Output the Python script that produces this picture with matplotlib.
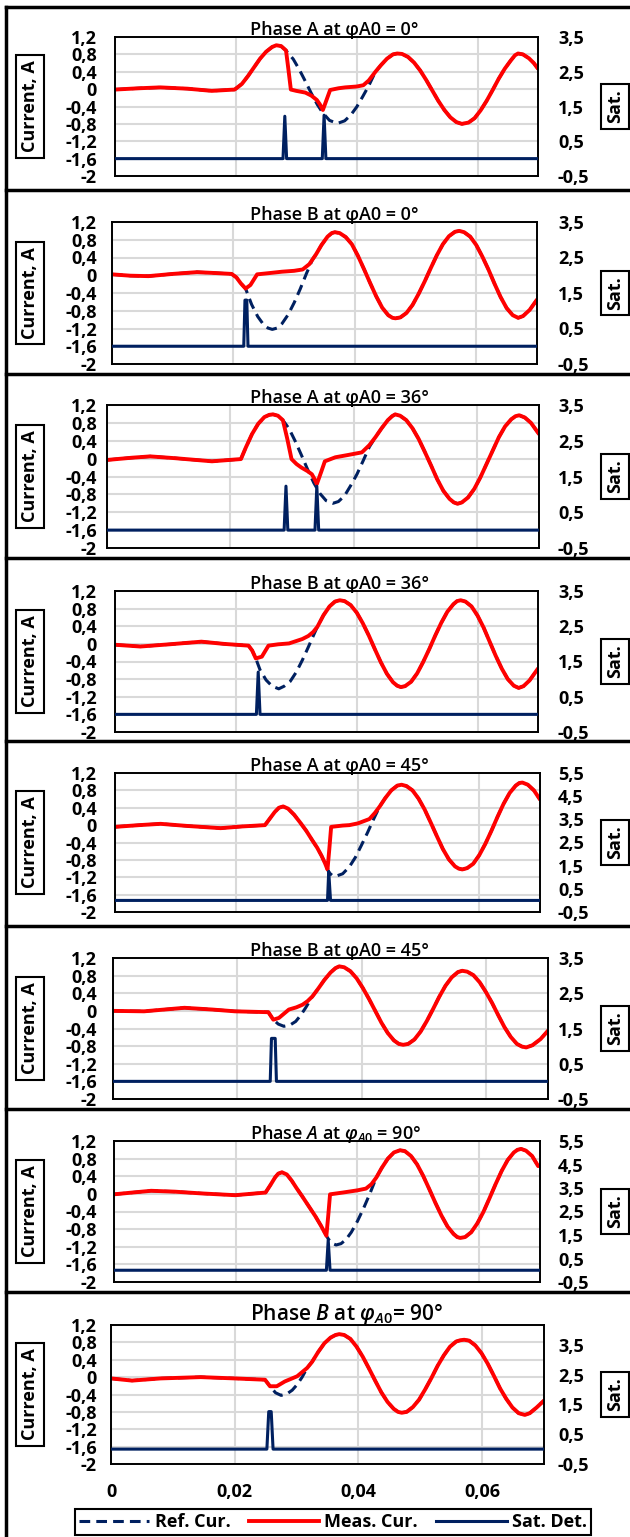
import matplotlib.pyplot as plt
from matplotlib.lines import Line2D
from matplotlib.ticker import FuncFormatter

# ---------------- data ----------------
titles = [
    "Phase A at φA0 = 0°",
    "Phase B at φA0 = 0°",
    "Phase A at φA0 = 36°",
    "Phase B at φA0 = 36°",
    "Phase A at φA0 = 45°",
    "Phase B at φA0 = 45°",
    r"Phase $\mathit{A}$ at $\mathit{φ}_{\mathit{A0}}$ = $\mathit{90°}$",
    r"Phase $\mathit{B}$ at $\mathit{φ}_{\mathit{A0}}$= $\mathit{90°}$",
]
legend_labels = ["Ref. Cur.", "Meas. Cur.", "Sat. Det."]
x_ticks = [0, 0.02, 0.04, 0.06]
cur_ticks = [-2, -1.6, -1.2, -0.8, -0.4, 0, 0.4, 0.8, 1.2]

# panel 1 - phase A, 0 deg
t_meas_1 = [0, 0.004, 0.0075, 0.012, 0.016, 0.0198, 0.021, 0.022, 0.023, 0.024, 0.025, 0.026, 0.0267, 0.0275, 0.0283,
            0.0287, 0.0291, 0.030, 0.0315, 0.0325, 0.0334, 0.0339, 0.0344, 0.035, 0.0356, 0.037, 0.0381, 0.040, 0.0411,
            0.042, 0.0431, 0.044, 0.045, 0.046, 0.0467, 0.0475, 0.0485, 0.0495, 0.0505, 0.0515, 0.0525, 0.0535, 0.0545,
            0.0555, 0.0565, 0.0574, 0.0585, 0.0595, 0.0605, 0.0615, 0.0625, 0.0635, 0.0645, 0.0655, 0.0662, 0.0667,
            0.0675, 0.0685, 0.0693, 0.07]
i_meas_1 = [-0.01, 0.02, 0.04, 0.01, -0.04, -0.01, 0.12, 0.3, 0.5, 0.7, 0.86, 0.97, 1.01, 0.99, 0.89,
            0.45, -0.01, -0.04, -0.08, -0.15, -0.25, -0.35, -0.48, -0.25, -0.02, 0.02, 0.04, 0.06, 0.09,
            0.2, 0.4, 0.55, 0.7, 0.8, 0.82, 0.81, 0.74, 0.61, 0.43, 0.21, -0.03, -0.27, -0.48,
            -0.65, -0.76, -0.8, -0.77, -0.67, -0.49, -0.27, -0.02, 0.24, 0.47, 0.66, 0.78, 0.82,
            0.8, 0.71, 0.6, 0.47]
t_ref_1 = [0.0283, 0.0295, 0.0305, 0.0315, 0.0325, 0.0335, 0.0344, 0.0355, 0.0368, 0.038, 0.039, 0.040, 0.041, 0.042, 0.0431]
i_ref_1 = [0.89, 0.69, 0.45, 0.18, -0.1, -0.36, -0.55, -0.72, -0.79, -0.73, -0.6, -0.41, -0.17, 0.08, 0.4]
t_sat_1 = [0, 0.0278, 0.0281, 0.0284, 0.0343, 0.0346, 0.0349, 0.07]
s_sat_1 = [0, 0, 1.22, 0, 0, 1.25, 0, 0]

# panel 2 - phase B, 0 deg
t_meas_2 = [0, 0.003, 0.006, 0.01, 0.014, 0.017, 0.0197, 0.0205, 0.0212, 0.022, 0.0228, 0.0239, 0.026, 0.028, 0.030,
            0.0314, 0.0325, 0.0336, 0.0345, 0.0355, 0.0362, 0.0367, 0.0375, 0.0385, 0.0395, 0.0405, 0.0415, 0.0425,
            0.0435, 0.0445, 0.0455, 0.0462, 0.0467, 0.0475, 0.0485, 0.0495, 0.0505, 0.0515, 0.0525, 0.0535, 0.0545,
            0.0555, 0.0565, 0.0572, 0.058, 0.059, 0.060, 0.061, 0.062, 0.063, 0.064, 0.065, 0.066, 0.0669, 0.0677,
            0.0688, 0.07]
i_meas_2 = [0.02, -0.01, -0.02, 0.03, 0.07, 0.05, 0.03, -0.05, -0.18, -0.3, -0.22, 0.02, 0.05, 0.08, 0.1,
            0.13, 0.25, 0.47, 0.68, 0.87, 0.95, 0.97, 0.95, 0.86, 0.7, 0.44, 0.14, -0.17,
            -0.47, -0.73, -0.9, -0.96, -0.97, -0.95, -0.85, -0.67, -0.42, -0.14, 0.16, 0.45, 0.7,
            0.88, 0.98, 1.0, 0.97, 0.87, 0.68, 0.42, 0.13, -0.19, -0.49, -0.74, -0.9, -0.96, -0.92,
            -0.78, -0.55]
t_ref_2 = [0.022, 0.023, 0.024, 0.025, 0.0257, 0.0264, 0.0272, 0.028, 0.029, 0.030, 0.031, 0.032, 0.033, 0.0336]
i_ref_2 = [-0.3, -0.66, -0.93, -1.12, -1.19, -1.22, -1.19, -1.09, -0.89, -0.62, -0.31, 0.03, 0.35, 0.47]
t_sat_2 = [0, 0.0217, 0.0219, 0.0222, 0.0224, 0.07]
s_sat_2 = [0, 0, 1.3, 1.3, 0, 0]

# panel 3 - phase A, 36 deg
t_meas_3 = [0, 0.004, 0.007, 0.011, 0.017, 0.0217, 0.0225, 0.0235, 0.0245, 0.0255, 0.0263, 0.0269, 0.0277, 0.0285,
            0.0292, 0.0299, 0.0307, 0.0315, 0.0325, 0.0332, 0.0336, 0.034, 0.0347, 0.0353, 0.037, 0.039, 0.0413,
            0.0425, 0.0435, 0.0445, 0.0455, 0.0462, 0.0467, 0.0475, 0.0485, 0.0495, 0.0505, 0.0515, 0.0525, 0.0535,
            0.0545, 0.0555, 0.0562, 0.0568, 0.0575, 0.0585, 0.0595, 0.0605, 0.0615, 0.0625, 0.0635, 0.0645, 0.0655,
            0.0662, 0.0668, 0.0677, 0.0687, 0.07]
i_meas_3 = [-0.03, 0.02, 0.05, 0.01, -0.06, -0.01, 0.25, 0.55, 0.78, 0.93, 0.98, 0.99, 0.96, 0.86,
            0.45, -0.01, -0.12, -0.2, -0.28, -0.35, -0.45, -0.57, -0.3, -0.06, 0.03, 0.08, 0.14,
            0.3, 0.48, 0.68, 0.86, 0.95, 0.99, 0.96, 0.86, 0.68, 0.44, 0.15, -0.15, -0.46,
            -0.72, -0.9, -0.98, -1.01, -0.98, -0.87, -0.68, -0.42, -0.12, 0.18, 0.48, 0.72, 0.88,
            0.95, 0.97, 0.92, 0.8, 0.55]
t_ref_3 = [0.0285, 0.0295, 0.0305, 0.0315, 0.0325, 0.0335, 0.0345, 0.0355, 0.0366, 0.0375, 0.0385, 0.0395, 0.0405,
           0.0415, 0.0425, 0.0435]
i_ref_3 = [0.86, 0.67, 0.39, 0.08, -0.24, -0.54, -0.78, -0.94, -1.0, -0.96, -0.83, -0.6, -0.35, -0.05, 0.26, 0.48]
t_sat_3 = [0, 0.0287, 0.029, 0.0293, 0.0337, 0.034, 0.0343, 0.07]
s_sat_3 = [0, 0, 1.23, 0, 0, 1.23, 0, 0]

# panel 4 - phase B, 36 deg
t_meas_4 = [0, 0.0042, 0.009, 0.0143, 0.018, 0.0221, 0.0227, 0.0233, 0.0243, 0.0254, 0.027, 0.0288, 0.031, 0.032,
            0.0328, 0.0335, 0.0345, 0.0355, 0.0364, 0.0372, 0.038, 0.039, 0.040, 0.041, 0.042, 0.043, 0.044, 0.045,
            0.046, 0.0467, 0.0473, 0.048, 0.049, 0.050, 0.051, 0.052, 0.053, 0.054, 0.055, 0.056, 0.0566, 0.0572,
            0.058, 0.059, 0.060, 0.061, 0.062, 0.063, 0.064, 0.065, 0.066, 0.0668, 0.0676, 0.0686, 0.07]
i_meas_4 = [-0.02, -0.06, -0.01, 0.05, 0.0, -0.04, -0.15, -0.33, -0.29, -0.04, -0.01, 0.01, 0.11, 0.18,
            0.27, 0.39, 0.65, 0.85, 0.96, 0.99, 0.97, 0.88, 0.71, 0.47, 0.19, -0.12, -0.42, -0.68,
            -0.87, -0.95, -0.98, -0.96, -0.86, -0.67, -0.41, -0.12, 0.19, 0.48, 0.73, 0.9, 0.97, 0.99,
            0.96, 0.85, 0.64, 0.37, 0.05, -0.27, -0.56, -0.8, -0.95, -1.0, -0.96, -0.83, -0.56]
t_ref_4 = [0.0233, 0.024, 0.025, 0.026, 0.0271, 0.028, 0.029, 0.030, 0.031, 0.032, 0.033, 0.0335]
i_ref_4 = [-0.33, -0.59, -0.82, -0.96, -1.02, -0.96, -0.85, -0.64, -0.37, -0.07, 0.24, 0.39]
t_sat_4 = [0, 0.0234, 0.0237, 0.024, 0.07]
s_sat_4 = [0, 0, 1.2, 0, 0]

# panel 5 - phase A, 45 deg
t_meas_5 = [0, 0.004, 0.0075, 0.012, 0.0174, 0.021, 0.0247, 0.0255, 0.0263, 0.027, 0.0277, 0.0285, 0.0295, 0.0305,
            0.0315, 0.0325, 0.0333, 0.034, 0.0346, 0.035, 0.0353, 0.0356, 0.0375, 0.0386, 0.040, 0.0419, 0.0428,
            0.0436, 0.0445, 0.0455, 0.0465, 0.0472, 0.048, 0.049, 0.050, 0.051, 0.052, 0.053, 0.054, 0.055, 0.056,
            0.0566, 0.0572, 0.058, 0.059, 0.060, 0.061, 0.062, 0.063, 0.064, 0.065, 0.066, 0.0666, 0.0671, 0.068,
            0.069, 0.07]
i_meas_5 = [-0.04, 0.0, 0.03, -0.02, -0.07, -0.03, 0.0, 0.15, 0.3, 0.4, 0.43, 0.38, 0.24, 0.06,
            -0.13, -0.35, -0.52, -0.7, -0.88, -1.02, -0.55, -0.04, -0.01, 0.0, 0.04, 0.14, 0.28,
            0.43, 0.62, 0.8, 0.91, 0.93, 0.9, 0.8, 0.61, 0.36, 0.06, -0.25, -0.55, -0.79, -0.95,
            -1.0, -1.02, -0.99, -0.89, -0.69, -0.43, -0.13, 0.19, 0.49, 0.74, 0.91, 0.97, 0.98, 0.93,
            0.8, 0.59]
t_ref_5 = [0.035, 0.0353, 0.0358, 0.0363, 0.0375, 0.0386, 0.0396, 0.0406, 0.0416, 0.0426, 0.0436]
i_ref_5 = [-1.02, -1.1, -1.16, -1.18, -1.12, -0.96, -0.74, -0.46, -0.17, 0.14, 0.43]
t_sat_5 = [0, 0.035, 0.0352, 0.0355, 0.07]
s_sat_5 = [0, 0, 1.25, 0, 0]

# panel 6 - phase B, 45 deg
t_meas_6 = [0, 0.005, 0.0115, 0.016, 0.0196, 0.025, 0.0258, 0.0267, 0.0283, 0.0295, 0.0305, 0.0313, 0.0321, 0.033,
            0.034, 0.035, 0.0358, 0.0364, 0.0372, 0.0382, 0.0392, 0.0402, 0.0412, 0.0422, 0.0432, 0.0442, 0.0452,
            0.046, 0.0467, 0.0475, 0.0485, 0.0495, 0.0505, 0.0515, 0.0525, 0.0535, 0.0545, 0.0555, 0.0562, 0.057,
            0.058, 0.059, 0.060, 0.061, 0.062, 0.063, 0.064, 0.065, 0.0658, 0.0665, 0.0675, 0.0688, 0.07]
i_meas_6 = [0.0, -0.01, 0.07, 0.03, -0.01, -0.03, -0.2, -0.16, 0.03, 0.08, 0.14, 0.22, 0.33, 0.5,
            0.7, 0.87, 0.97, 1.01, 0.99, 0.9, 0.74, 0.52, 0.27, 0.0, -0.27, -0.5, -0.67,
            -0.75, -0.77, -0.75, -0.65, -0.47, -0.23, 0.04, 0.32, 0.57, 0.76, 0.88, 0.91, 0.89,
            0.81, 0.65, 0.43, 0.18, -0.1, -0.37, -0.59, -0.75, -0.81, -0.83, -0.78, -0.64, -0.45]
t_ref_6 = [0.0258, 0.0266, 0.0275, 0.0285, 0.0294, 0.0302, 0.031, 0.0321]
i_ref_6 = [-0.2, -0.3, -0.35, -0.32, -0.24, -0.1, 0.07, 0.33]
t_sat_6 = [0, 0.0253, 0.0255, 0.0261, 0.0263, 0.07]
s_sat_6 = [0, 0, 1.22, 1.22, 0, 0]

# panel 7 - phase A, 90 deg
t_meas_7 = [0, 0.003, 0.0061, 0.01, 0.0144, 0.0199, 0.0249, 0.0257, 0.0265, 0.027, 0.0276, 0.0284, 0.0292, 0.030,
            0.0309, 0.032, 0.0331, 0.034, 0.0349, 0.0352, 0.0355, 0.0376, 0.040, 0.0414, 0.0423, 0.0431, 0.044,
            0.045, 0.046, 0.047, 0.0478, 0.0488, 0.0498, 0.0508, 0.0518, 0.0528, 0.0538, 0.0548, 0.0558, 0.0564,
            0.0569, 0.0577, 0.0587, 0.0597, 0.0607, 0.0617, 0.0627, 0.0637, 0.0647, 0.0657, 0.0663, 0.0669, 0.0677,
            0.0687, 0.0697]
i_meas_7 = [-0.01, 0.03, 0.07, 0.05, 0.01, -0.03, 0.03, 0.2, 0.38, 0.46, 0.49, 0.44, 0.3, 0.13,
            -0.05, -0.28, -0.51, -0.72, -0.95, -0.5, -0.01, 0.03, 0.08, 0.12, 0.22, 0.37, 0.59,
            0.8, 0.94, 0.99, 0.97, 0.86, 0.67, 0.41, 0.11, -0.2, -0.49, -0.74, -0.91, -0.98,
            -1.0, -0.98, -0.87, -0.67, -0.41, -0.1, 0.22, 0.52, 0.77, 0.94, 1.0, 1.02, 0.98,
            0.86, 0.63]
t_ref_7 = [0.0349, 0.0352, 0.0358, 0.0365, 0.0373, 0.0381, 0.039, 0.040, 0.041, 0.042, 0.0431]
i_ref_7 = [-0.95, -1.02, -1.12, -1.16, -1.13, -1.04, -0.87, -0.62, -0.33, -0.01, 0.37]
t_sat_7 = [0, 0.0349, 0.0352, 0.0355, 0.07]
s_sat_7 = [0, 0, 1.29, 0, 0]

# panel 8 - phase B, 90 deg
t_meas_8 = [0, 0.0034, 0.008, 0.0145, 0.02, 0.0249, 0.0257, 0.0268, 0.0281, 0.0301, 0.0317, 0.0325, 0.0335, 0.0345,
            0.0355, 0.0363, 0.0369, 0.0377, 0.0387, 0.0397, 0.0407, 0.0417, 0.0427, 0.0437, 0.0447, 0.0457, 0.0464,
            0.047, 0.0478, 0.0488, 0.0498, 0.0508, 0.0518, 0.0528, 0.0538, 0.0548, 0.0558, 0.0565, 0.0571, 0.0579,
            0.0589, 0.0599, 0.0609, 0.0619, 0.0629, 0.0639, 0.0649, 0.0659, 0.0669, 0.0677, 0.0688, 0.07]
i_meas_8 = [-0.03, -0.08, -0.03, 0.0, -0.03, -0.06, -0.21, -0.21, -0.1, 0.02, 0.21, 0.35, 0.58, 0.78,
            0.91, 0.97, 0.99, 0.97, 0.88, 0.7, 0.47, 0.2, -0.08, -0.35, -0.57, -0.73, -0.8,
            -0.82, -0.8, -0.69, -0.52, -0.28, -0.02, 0.26, 0.5, 0.7, 0.82, 0.85, 0.86, 0.84,
            0.73, 0.55, 0.31, 0.03, -0.26, -0.5, -0.7, -0.83, -0.87, -0.83, -0.7, -0.54]
t_ref_8 = [0.0257, 0.0266, 0.0275, 0.0285, 0.0293, 0.0301, 0.0309, 0.0317]
i_ref_8 = [-0.21, -0.36, -0.42, -0.38, -0.3, -0.17, 0.0, 0.21]
t_sat_8 = [0, 0.0252, 0.0255, 0.0259, 0.0262, 0.07]
s_sat_8 = [0, 0, 1.26, 1.26, 0, 0]

meas = [(t_meas_1, i_meas_1), (t_meas_2, i_meas_2), (t_meas_3, i_meas_3), (t_meas_4, i_meas_4),
        (t_meas_5, i_meas_5), (t_meas_6, i_meas_6), (t_meas_7, i_meas_7), (t_meas_8, i_meas_8)]
refs = [(t_ref_1, i_ref_1), (t_ref_2, i_ref_2), (t_ref_3, i_ref_3), (t_ref_4, i_ref_4),
        (t_ref_5, i_ref_5), (t_ref_6, i_ref_6), (t_ref_7, i_ref_7), (t_ref_8, i_ref_8)]
sats = [(t_sat_1, s_sat_1), (t_sat_2, s_sat_2), (t_sat_3, s_sat_3), (t_sat_4, s_sat_4),
        (t_sat_5, s_sat_5), (t_sat_6, s_sat_6), (t_sat_7, s_sat_7), (t_sat_8, s_sat_8)]

# ---------------- style / layout ----------------
RED = "#FF0000"
NAVY = "#002060"
GRID = "#D9D9D9"
W, H = 630, 1537
FS = 13

plt.rcParams["font.family"] = ["Open Sans", "DejaVu Sans"]
plt.rcParams["font.weight"] = "bold"
plt.rcParams["mathtext.fontset"] = "custom"
plt.rcParams["mathtext.rm"] = "Open Sans:semibold"
plt.rcParams["mathtext.it"] = "Open Sans:italic:semibold"

# plot areas in pixels: left, right, top, bottom
boxes = [(115, 538, 37, 176), (112, 537, 222, 364), (107, 539, 405, 548), (115, 538, 591, 732),
         (115, 540, 773, 912), (113, 548, 958, 1099), (114, 540, 1141, 1282), (111, 544, 1325, 1464)]
sat_tops = [3.5, 3.5, 3.5, 3.5, 5.5, 3.5, 5.5, 4.17]
title_gap = [2, 2, 2, 2, 2, 2, 2, 5]
title_size = [FS] * 7 + [15]
separators = [7, 190, 374, 558, 741, 926, 1109, 1292]

comma = FuncFormatter(lambda v, _: f"{v:g}".replace(".", ","))
box_style = dict(boxstyle="square,pad=0.3", fc="white", ec="black", lw=1.5)

fig = plt.figure(figsize=(W / 100, H / 100), dpi=100)

for k in range(8):
    l, r, t, b = boxes[k]
    ax = fig.add_axes([l / W, 1 - b / H, (r - l) / W, (b - t) / H])
    ax.set_xlim(0, 0.07)
    ax.set_ylim(-2, 1.2)
    ax.set_xticks(x_ticks)
    ax.set_yticks(cur_ticks)
    ax.xaxis.set_major_formatter(comma)
    ax.yaxis.set_major_formatter(comma)
    ax.grid(True, color=GRID, lw=1.5)
    ax.set_axisbelow(True)
    ax.tick_params(axis="y", length=0, labelsize=FS, pad=(l - 97) * 0.72)
    ax.tick_params(axis="x", length=0, labelsize=FS, pad=14, labelbottom=(k == 7))
    for sp in ax.spines.values():
        sp.set_color("black")
        sp.set_linewidth(1.4)

    tm, im = meas[k]
    tr, ir = refs[k]
    # reference curve = measured curve outside the deviation window
    rt = [x for x in tm if x < tr[0]] + tr + [x for x in tm if x > tr[-1]]
    ri = [y for x, y in zip(tm, im) if x < tr[0]] + ir + [y for x, y in zip(tm, im) if x > tr[-1]]
    ax.plot(rt, ri, color=NAVY, lw=2.2, dashes=(3.5, 2))
    ax.plot(tm, im, color=RED, lw=2.8, solid_capstyle="round")

    ax2 = ax.twinx()
    ax2.set_ylim(-0.5, sat_tops[k])
    ax2.set_yticks([v + 0.5 for v in range(-1, int(sat_tops[k] - 0.5) + 1)])
    ax2.yaxis.set_major_formatter(comma)
    ax2.tick_params(axis="y", length=0, labelsize=FS, pad=(558 - r) * 0.72)
    for sp in ax2.spines.values():
        sp.set_visible(False)
    ts, ss = sats[k]
    ax2.plot(ts, ss, color=NAVY, lw=2.2)

    fig.text(250 / W, 1 - (t - title_gap[k]) / H, titles[k], ha="left", va="baseline",
             fontsize=title_size[k], fontweight="semibold")
    yc = 1 - (t + b) / 2 / H
    fig.text(30 / W, yc, "Current, A", rotation=90, ha="center", va="center", fontsize=FS, bbox=box_style)
    fig.text(615 / W, yc, "Sat.", rotation=90, ha="center", va="center", fontsize=FS, bbox=box_style)

# panel frames
for y in separators:
    fig.add_artist(Line2D([6 / W, 1], [1 - y / H, 1 - y / H], color="black", lw=2.5, transform=fig.transFigure))
fig.add_artist(Line2D([6 / W, 6 / W], [1 - 7 / H, 0], color="black", lw=2.5, transform=fig.transFigure))

handles = [Line2D([], [], color=NAVY, lw=2.2, dashes=(3.5, 2)),
           Line2D([], [], color=RED, lw=2.8),
           Line2D([], [], color=NAVY, lw=2.2)]
leg = fig.legend(handles, legend_labels, loc="center", bbox_to_anchor=(333 / W, 1 - 1522 / H), ncol=3,
                 fontsize=FS, frameon=True, fancybox=False, edgecolor="black", framealpha=1,
                 handlelength=3.9, handletextpad=0.3, columnspacing=1.0, borderpad=0.2, borderaxespad=0)
leg.get_frame().set_linewidth(1.5)

fig.savefig("out.png", dpi=100)
